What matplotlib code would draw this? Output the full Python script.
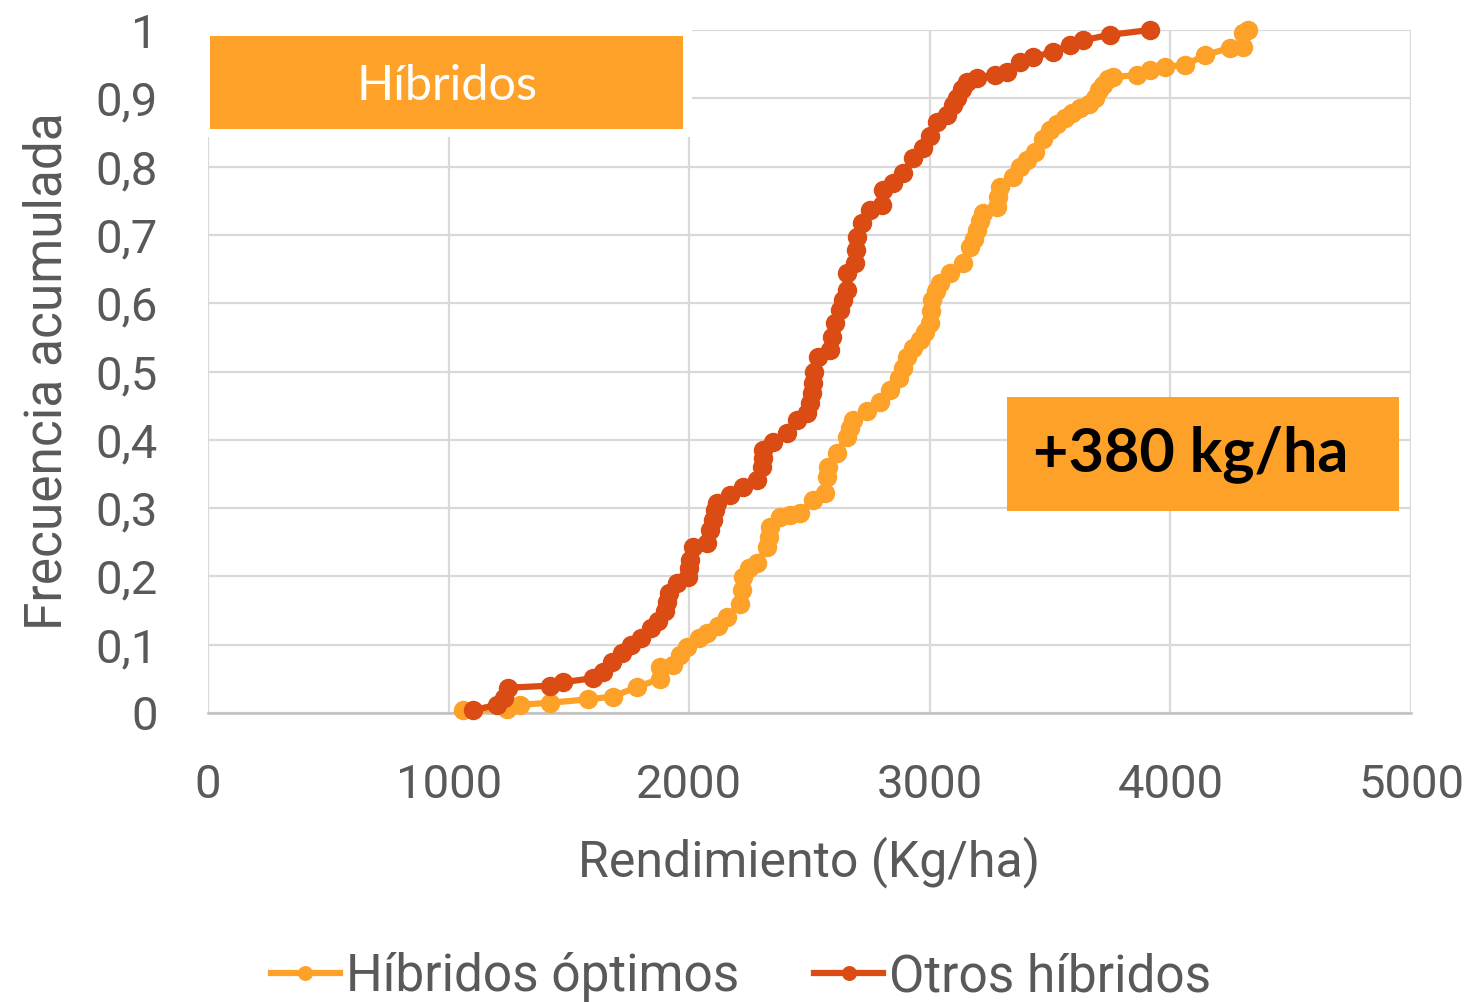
import numpy as np
import matplotlib
matplotlib.use("Agg")
import matplotlib.pyplot as plt
from matplotlib.patches import Rectangle
from matplotlib.ticker import FuncFormatter

# ECDF: rendimiento (kg/ha) y frecuencia acumulada
opt_x = [1060, 1243, 1297, 1421, 1579, 1683, 1783, 1879, 1879, 1933, 1962, 1991,
         2040, 2074, 2120, 2157, 2211, 2218, 2224, 2250, 2282, 2323, 2330, 2336,
         2377, 2420, 2460, 2515, 2564, 2573, 2577, 2614, 2656, 2668, 2681, 2739,
         2793, 2835, 2870, 2888, 2905, 2932, 2959, 2980, 3001, 3005, 3009, 3025,
         3042, 3084, 3138, 3167, 3182, 3196, 3209, 3221, 3279, 3285, 3292, 3346,
         3375, 3404, 3437, 3470, 3500, 3530, 3562, 3593, 3624, 3660, 3687, 3705,
         3720, 3740, 3761, 3861, 3915, 3978, 4061, 4144, 4248, 4302, 4302, 4322]
opt_y = [0.004, 0.006, 0.012, 0.015, 0.020, 0.024, 0.038, 0.050, 0.067, 0.070, 0.085, 0.097,
         0.110, 0.117, 0.128, 0.140, 0.160, 0.180, 0.199, 0.212, 0.220, 0.243, 0.258, 0.272,
         0.287, 0.290, 0.293, 0.312, 0.322, 0.346, 0.360, 0.381, 0.404, 0.417, 0.429, 0.442,
         0.456, 0.473, 0.490, 0.505, 0.521, 0.534, 0.546, 0.558, 0.571, 0.588, 0.605, 0.618,
         0.630, 0.644, 0.659, 0.682, 0.694, 0.707, 0.720, 0.732, 0.741, 0.755, 0.770, 0.785,
         0.800, 0.810, 0.822, 0.840, 0.854, 0.863, 0.871, 0.878, 0.886, 0.892, 0.900, 0.912,
         0.920, 0.928, 0.931, 0.934, 0.941, 0.946, 0.949, 0.963, 0.974, 0.975, 0.996, 1.000]

otros_x = [1101, 1201, 1230, 1247, 1421, 1476, 1600, 1640, 1680, 1720, 1760, 1800,
           1840, 1870, 1900, 1908, 1915, 1949, 1995, 1999, 2003, 2016, 2074, 2086,
           2097, 2107, 2116, 2170, 2224, 2282, 2303, 2305, 2307, 2348, 2406, 2448,
           2490, 2502, 2510, 2515, 2520, 2535, 2585, 2595, 2606, 2627, 2640, 2656,
           2656, 2689, 2692, 2697, 2718, 2751, 2801, 2805, 2847, 2889, 2930, 2972,
           3000, 3030, 3071, 3095, 3113, 3135, 3155, 3196, 3271, 3321, 3375, 3429,
           3512, 3583, 3637, 3749, 3915]
otros_y = [0.004, 0.012, 0.022, 0.037, 0.040, 0.045, 0.051, 0.060, 0.075, 0.088, 0.100, 0.110,
           0.124, 0.135, 0.150, 0.163, 0.176, 0.190, 0.199, 0.212, 0.224, 0.243, 0.249, 0.268,
           0.283, 0.297, 0.307, 0.319, 0.331, 0.341, 0.360, 0.373, 0.385, 0.397, 0.410, 0.429,
           0.439, 0.454, 0.468, 0.483, 0.500, 0.521, 0.531, 0.550, 0.571, 0.590, 0.605, 0.619,
           0.644, 0.659, 0.678, 0.697, 0.717, 0.736, 0.744, 0.766, 0.776, 0.791, 0.813, 0.827,
           0.845, 0.865, 0.876, 0.890, 0.900, 0.913, 0.924, 0.930, 0.934, 0.938, 0.953, 0.960,
           0.968, 0.978, 0.985, 0.993, 1.000]

c_opt = "#FDA128"
c_otros = "#DA4C13"
gris = "#595959"

W, H = 1477, 1002
fig = plt.figure(figsize=(W / 100, H / 100), dpi=100)

def fx(px):
    return px / W

def fy(py):
    return 1 - py / H

ax = fig.add_axes([fx(208), fy(713), (1411 - 208) / W, (713 - 30) / H])

ax.plot(opt_x, opt_y, color=c_opt, lw=4.5, marker="o", ms=13,
        label="Híbridos óptimos", clip_on=False, zorder=3)
ax.plot(otros_x, otros_y, color=c_otros, lw=4.5, marker="o", ms=13,
        label="Otros híbridos", clip_on=False, zorder=4)

ax.set_xlim(0, 5000)
ax.set_ylim(0, 1)
ax.set_xticks(np.arange(0, 5001, 1000))
ax.set_yticks(np.arange(0, 1.01, 0.1))
ax.yaxis.set_major_formatter(FuncFormatter(lambda v, p: ("%g" % round(v, 1)).replace(".", ",")))
ax.grid(True, color="#d9d9d9", lw=1.6)
ax.set_axisbelow(True)
for s in ["top", "right", "left"]:
    ax.spines[s].set_visible(False)
ax.spines["bottom"].set_color("#bfbfbf")
ax.spines["bottom"].set_linewidth(1.8)
ax.tick_params(length=0, labelsize=34, labelcolor=gris, labelfontfamily="Roboto")
ax.tick_params(axis="y", pad=36)
ax.tick_params(axis="x", pad=36)

ax.set_xlabel("Rendimiento (Kg/ha)", fontsize=36, color=gris, family="Roboto")
ax.set_ylabel("Frecuencia acumulada", fontsize=37, color=gris, family="Roboto")
ax.xaxis.set_label_coords(0.5, -0.18)
ax.yaxis.set_label_coords(-0.113, 0.5)

# recuadro "Híbridos"
fig.patches.append(Rectangle((fx(208), fy(137)), (692 - 208) / W, (137 - 28) / H,
                             transform=fig.transFigure, facecolor="white", edgecolor="none", zorder=5))
fig.patches.append(Rectangle((fx(210), fy(129)), (683 - 210) / W, (129 - 36) / H,
                             transform=fig.transFigure, facecolor=c_opt, edgecolor="none", zorder=6))
fig.text(fx(447), fy(86), "Híbridos", color="white", fontsize=35, family="Lato",
         ha="center", va="center", zorder=7)

# recuadro diferencia
fig.patches.append(Rectangle((fx(1007), fy(511)), (1399 - 1007) / W, (511 - 397) / H,
                             transform=fig.transFigure, facecolor=c_opt, edgecolor="none", zorder=5))
fig.text(fx(1033), fy(454), "+380 kg/ha", color="black", fontsize=44, family="Lato",
         fontweight="bold", ha="left", va="center", zorder=7)

leg = fig.legend(loc="center", bbox_to_anchor=(fx(741), fy(977)), ncol=2, frameon=False,
                 prop={"family": "Roboto", "size": 37}, handlelength=1.35, handletextpad=0.12,
                 columnspacing=1.45, markerscale=0.75)
for t in leg.get_texts():
    t.set_color(gris)

fig.savefig("out.png", dpi=100, facecolor="white")
